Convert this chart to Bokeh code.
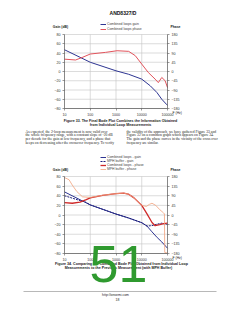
from bokeh.plotting import figure
from bokeh.models import (LinearAxis, LogAxis, Range1d, FixedTicker, Label, Legend, LegendItem,
                          NumeralTickFormatter, LinearScale)
from bokeh.embed import file_html
from bokeh.resources import INLINE

# ---------------- data ----------------
freq_ticks = [10, 100, 1000, 10000, 100000]
freq_grid = [100, 1000, 10000]
gain_ticks = [-80, -60, -40, -20, 0, 20, 40, 60, 80]
phase_ticks = [-180, -135, -90, -45, 0, 45, 90, 135, 180]

# Figure 33
f33_gain = [10, 100, 1000, 3100, 10000, 21500, 39000, 60000, 95000, 100000]
g33_gain = [47, 20, 1.5, -6, -16.5, -31, -45.6, -60, -72, -73]
f33_phase = [10, 27, 48, 100, 390, 1100, 3100, 5600, 10000, 18000, 33000, 44000, 60000, 81000, 100000]
p33_phase = [60, 56, 68, 85, 93, 101, 98, 77, 36, -5, -37, -54, -29, -45, -78]

# Figure 34
f34_comb_gain = [10, 100, 1000, 3000, 10000, 16000, 25000, 40000, 60000, 100000]
g34_comb_gain = [48, 21, 2, -6, -16, -23, -35, -47, -56, -69]
f34_mph_gain = [10, 20, 40, 65, 100, 1000, 3000, 10000, 16000, 25000, 40000, 60000, 100000]
g34_mph_gain = [40, 35, 30, 27, 21, 2, -6, -16, -23, -22, -19, -17, -20]
f34_comb_phase = [10, 20, 40, 70, 100, 300, 1000, 2000, 3000, 5000, 10000, 16000, 25000, 33000, 50000, 70000, 100000]
p34_comb_phase = [58, 55, 60, 72, 80, 92, 100, 102, 98, 80, 45, 5, -35, -50, -45, -40, -38]
f34_mph_phase = [10, 15, 20, 30, 50, 100, 300, 1000, 2000, 3000, 5000, 10000, 15000, 20000, 25000, 35000, 50000, 70000, 76000, 78000, 100000]
p34_mph_phase = [175, 165, 140, 110, 85, 82, 92, 100, 102, 98, 80, 45, 40, 50, 55, 45, 25, 10, 5, -175, -178]

left_col = ["     As expected, the 2-loop measurement is now valid over",
            "the whole frequency range, with a constant slope of -20 dB",
            "per decade for the gain at low frequency, and a phase that",
            "keeps on decreasing after the crossover frequency. To verify"]
right_col = ["the validity of the approach, we have gathered Figure 33 and",
             "Figure 32 on a common graph which appears on Figure 34.",
             "The gain and the phase curves in the vicinity of the cross over",
             "frequency are similar."]

BLUE = "#2e3592"
RED = "#e2545c"
RED2 = "#cf2a2a"
ORANGE = "#f2a27c"
GREY = "#c4c4c4"
SANS = "Liberation Sans"
SERIF = "Liberation Serif"

W, H = 240, 310
FL, FR = 64, 167          # chart frame left / right (page px)
DEC = (FR - FL) / 4.0     # px per decade


def yr(vmax, vmin, ptop, pbot):
    k = (pbot - ptop) / (vmax - vmin)
    return Range1d(start=vmin - (H - pbot) / k, end=vmax + ptop / k)


p = figure(width=W, height=H, x_axis_type="log",
           x_range=Range1d(10 ** (1 - FL / DEC), 10 ** (1 + (W - FL) / DEC)),
           y_range=yr(80, -80, 34, 108),
           x_axis_location=None, y_axis_location=None, min_border=0,
           output_backend="svg", toolbar_location=None)
p.grid.visible = False
p.outline_line_color = None
p.background_fill_color = "white"
p.border_fill_color = "white"
p.extra_x_ranges = {"px": Range1d(0, W)}
p.extra_x_scales = {"px": LinearScale()}
p.extra_y_ranges = {"ph1": yr(180, -180, 34, 108),
                    "g2": yr(80, -80, 176, 253),
                    "ph2": yr(180, -180, 176, 253),
                    "py": Range1d(H, 0)}


def style_axis(ax):
    ax.axis_line_color = "#555555"
    ax.axis_line_width = 0.7
    ax.major_tick_line_color = "#555555"
    ax.major_tick_line_width = 0.6
    ax.major_tick_out = 2
    ax.major_tick_in = 0
    ax.minor_tick_line_color = None
    ax.major_label_text_font = SANS
    ax.major_label_text_font_size = "3.6px"
    ax.major_label_text_color = "#333333"
    ax.major_label_standoff = 2


def chart_frame(gname, pname):
    kw = {} if gname == "default" else {"y_range_name": gname}
    n = len(gain_ticks)
    p.segment(x0=[10] * n, x1=[100000] * n, y0=gain_ticks, y1=gain_ticks,
              line_color=GREY, line_width=0.6, **kw)
    m = len(freq_grid)
    p.segment(x0=freq_grid, x1=freq_grid, y0=[-80] * m, y1=[80] * m,
              line_color=GREY, line_width=0.6, **kw)
    la = LinearAxis(y_range_name=gname, fixed_location=10, bounds=(-80, 80),
                    ticker=FixedTicker(ticks=gain_ticks))
    ra = LinearAxis(y_range_name=pname, fixed_location=100000, bounds=(-180, 180),
                    ticker=FixedTicker(ticks=phase_ticks))
    ba = LogAxis(y_range_name=gname, fixed_location=-80, bounds=(10, 100000),
                 ticker=FixedTicker(ticks=freq_ticks), formatter=NumeralTickFormatter(format="0"))
    for a in (la, ra, ba):
        style_axis(a)
    p.add_layout(la, "left")
    p.add_layout(ra, "right")
    p.add_layout(ba, "below")


def plabel(px, py, text, size, font=SANS, style="normal", align="center",
           color="#222222", baseline="middle"):
    p.add_layout(Label(x=px, y=py, x_range_name="px", y_range_name="py",
                       text=text, text_font=font, text_font_size=f"{size}px",
                       text_font_style=style, text_align=align, text_baseline=baseline,
                       text_color=color))


def legend(items, left, bottom, spacing):
    lg = Legend(items=items, location=(left, H - bottom), glyph_width=6, glyph_height=4,
                label_height=4, label_width=10, spacing=spacing, padding=0, margin=0,
                label_standoff=1, label_text_font=SANS, label_text_font_size="3.4px",
                border_line_alpha=0, background_fill_alpha=0)
    p.add_layout(lg)


# ---------------- Figure 33 ----------------
chart_frame("default", "ph1")
r_g = p.line(f33_gain, g33_gain, line_color=BLUE, line_width=1)
r_p = p.line(f33_phase, p33_phase, line_color=RED, line_width=1, y_range_name="ph1")
legend([LegendItem(label="Combined loops gain", renderers=[r_g]),
        LegendItem(label="Combined loops phase", renderers=[r_p])], 100, 31, 1)

plabel(122.5, 12, "AND8327/D", 5, style="bold", color="#111111")
plabel(60, 26, "Gain (dB)", 3.4, style="bold")
plabel(175, 26, "Phase", 3.4, style="bold")
plabel(172, 112, "F (Hz)", 3.4, align="left")
plabel(120, 120, "Figure 33. The Final Bode Plot Combines the Information Obtained", 3.6, style="bold")
plabel(120, 124.5, "from Individual Loop Measurements", 3.6, style="bold")

# ---------------- body text ----------------
for i, (a, b) in enumerate(zip(left_col, right_col)):
    y = 131 + i * 3.8
    plabel(25, y, a, 3.7, font=SERIF, align="left")
    plabel(126, y, b, 3.7, font=SERIF, align="left")

# ---------------- Figure 34 ----------------
chart_frame("g2", "ph2")
r1 = p.line(f34_comb_gain, g34_comb_gain, line_color=BLUE, line_width=1, y_range_name="g2")
r2 = p.line(f34_mph_gain, g34_mph_gain, line_color="#1c1c7a", line_width=1, line_dash="2 1",
            y_range_name="g2")
r3 = p.line(f34_comb_phase, p34_comb_phase, line_color=RED2, line_width=1.3, y_range_name="ph2")
r4 = p.line(f34_mph_phase, p34_mph_phase, line_color=ORANGE, line_width=0.8, y_range_name="ph2")
legend([LegendItem(label="Combined loops - gain", renderers=[r1]),
        LegendItem(label="MPH buffer - gain", renderers=[r2]),
        LegendItem(label="Combined loops - phase", renderers=[r3]),
        LegendItem(label="MPH buffer - phase", renderers=[r4])], 100, 171, 0)

plabel(60, 169, "Gain (dB)", 3.4, style="bold")
plabel(175, 169, "Phase", 3.4, style="bold")
plabel(172, 257, "F (Hz)", 3.4, align="left")
plabel(121, 263, "Figure 34. Comparing the Combined Bode Plot Obtained from Individual Loop", 3.6, style="bold")
plabel(118, 267.5, "Measurements to the Previous Measurement (with MPH Buffer)", 3.6, style="bold")

# ---------------- footer ----------------
p.segment(x0=[23], y0=[291], x1=[216], y1=[291], line_color="#888888", line_width=0.6,
          x_range_name="px", y_range_name="py")
plabel(115, 294.5, "http://onsemi.com", 3.4)
plabel(117, 298.5, "18", 3.4)

# ---------------- overlay ----------------
plabel(89, 263.5, "51", 52, align="left", color="#2f9a2f", baseline="middle")

open("out.html", "w").write(file_html(p, INLINE))
